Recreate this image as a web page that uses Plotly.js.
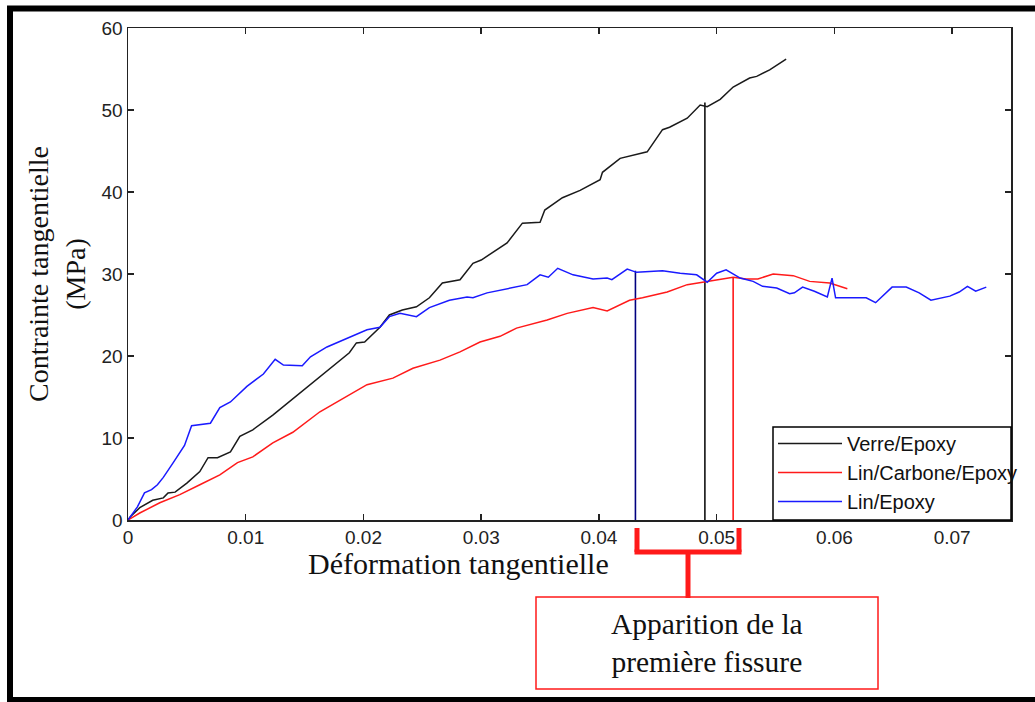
<!DOCTYPE html>
<html>
<head>
<meta charset="utf-8">
<script src="https://cdn.plot.ly/plotly-3.0.1.min.js"></script>
<style>
  html, body { margin: 0; padding: 0; background: #ffffff; }
  #chart { width: 1035px; height: 702px; }
</style>
</head>
<body>
<div id="chart"></div>
<script>
// ---- Data ----
const seriesNames = ['Verre/Epoxy', 'Lin/Carbone/Epoxy', 'Lin/Epoxy'];

const verreX = [0, 0.0002, 0.0010, 0.0021, 0.0030, 0.0034, 0.0040, 0.0050, 0.0061, 0.0068, 0.0076, 0.0087, 0.0095, 0.0106, 0.0123, 0.0140, 0.0155, 0.0163, 0.0177, 0.0188, 0.0194, 0.0201, 0.0214, 0.0222, 0.0233, 0.0245, 0.0256, 0.0267, 0.0282, 0.0293, 0.0300, 0.0316, 0.0322, 0.0335, 0.0350, 0.0354, 0.0369, 0.0384, 0.0401, 0.0403, 0.0418, 0.0441, 0.0454, 0.0460, 0.0475, 0.0486, 0.0492, 0.0503, 0.0514, 0.0528, 0.0534, 0.0545, 0.0559];
const verreY = [0, 0.4, 1.5, 2.4, 2.7, 3.3, 3.4, 4.5, 5.9, 7.6, 7.6, 8.3, 10.2, 11.0, 12.8, 14.8, 16.5, 17.4, 19.1, 20.4, 21.6, 21.7, 23.5, 25.0, 25.6, 26.0, 27.1, 28.9, 29.3, 31.3, 31.7, 33.3, 33.8, 36.2, 36.3, 37.8, 39.3, 40.2, 41.5, 42.4, 44.1, 44.9, 47.6, 47.9, 49.0, 50.6, 50.4, 51.3, 52.8, 53.9, 54.1, 54.9, 56.2];

const linCarbX = [0, 0.0010, 0.0027, 0.0044, 0.0061, 0.0078, 0.0093, 0.0106, 0.0123, 0.0140, 0.0163, 0.0180, 0.0203, 0.0225, 0.0242, 0.0265, 0.0282, 0.0299, 0.0316, 0.0330, 0.0356, 0.0373, 0.0395, 0.0407, 0.0426, 0.0437, 0.0458, 0.0475, 0.0488, 0.0503, 0.0514, 0.0525, 0.0535, 0.0548, 0.0565, 0.0579, 0.0596, 0.0611];
const linCarbY = [0, 0.85, 2.1, 3.1, 4.3, 5.5, 7.0, 7.7, 9.4, 10.7, 13.2, 14.6, 16.5, 17.3, 18.5, 19.5, 20.5, 21.7, 22.4, 23.4, 24.4, 25.2, 25.9, 25.5, 26.8, 27.1, 27.8, 28.7, 29.0, 29.4, 29.6, 29.4, 29.4, 30.0, 29.8, 29.1, 28.9, 28.2];

const linEpoX = [0, 0.0008, 0.0014, 0.0020, 0.0025, 0.0030, 0.0038, 0.0048, 0.0054, 0.0061, 0.0070, 0.0078, 0.0087, 0.0101, 0.0115, 0.0125, 0.0132, 0.0148, 0.0155, 0.0169, 0.0188, 0.0203, 0.0214, 0.0222, 0.0231, 0.0245, 0.0256, 0.0273, 0.0288, 0.0293, 0.0305, 0.0316, 0.0339, 0.0350, 0.0357, 0.0365, 0.0378, 0.0395, 0.0407, 0.0411, 0.0424, 0.0432, 0.0454, 0.0469, 0.0483, 0.0492, 0.0500, 0.0508, 0.0520, 0.0531, 0.0539, 0.0551, 0.0562, 0.0566, 0.0573, 0.0583, 0.0594, 0.0598, 0.0601, 0.0615, 0.0627, 0.0635, 0.0649, 0.0661, 0.0672, 0.0682, 0.0698, 0.0706, 0.0713, 0.0720, 0.0729];
const linEpoY = [0, 1.6, 3.3, 3.7, 4.3, 5.2, 6.9, 9.1, 11.5, 11.6, 11.8, 13.7, 14.4, 16.3, 17.8, 19.6, 18.9, 18.8, 19.9, 21.1, 22.3, 23.2, 23.5, 24.8, 25.2, 24.8, 25.9, 26.8, 27.2, 27.1, 27.7, 28.0, 28.7, 29.9, 29.6, 30.7, 29.9, 29.4, 29.5, 29.3, 30.6, 30.2, 30.4, 30.1, 29.9, 29.0, 30.1, 30.5, 29.5, 29.1, 28.5, 28.3, 27.6, 27.7, 28.4, 27.9, 27.2, 29.5, 27.1, 27.1, 27.1, 26.5, 28.4, 28.4, 27.7, 26.8, 27.3, 27.8, 28.5, 27.9, 28.4];

// first-crack markers (strain, stress) for Lin/Epoxy, Verre/Epoxy, Lin/Carbone/Epoxy
const crackX = [0.0431, 0.0490, 0.0514];
const crackY = [30.4, 50.9, 29.6];

const xTickVals = [0, 0.01, 0.02, 0.03, 0.04, 0.05, 0.06, 0.07];
const xTickText = ['0', '0.01', '0.02', '0.03', '0.04', '0.05', '0.06', '0.07'];
const yTickVals = [0, 10, 20, 30, 40, 50, 60];
const yTickText = ['0', '10', '20', '30', '40', '50', '60'];

const xTitle = 'Déformation tangentielle';
const yTitle = 'Contrainte tangentielle<br>(MPa)';
const noteText = 'Apparition de la<br>première fissure';

// ---- Styles ----
const curveColors = ['#1a1a1a', '#ff1a1a', '#1a1aff'];
const crackColors = ['#000080', '#111111', '#ff1a1a'];
const serif = 'Liberation Serif, Times New Roman, serif';
const sans = 'Liberation Sans, Arial, sans-serif';

const traces = [];
// crack vertical lines (drawn first, below the curves)
for (let i = 0; i < crackX.length; i++) {
  traces.push({
    x: [crackX[i], crackX[i]], y: [0, crackY[i]],
    mode: 'lines', type: 'scatter', showlegend: false, hoverinfo: 'skip',
    line: { color: crackColors[i], width: 1.6 }
  });
}
const dataSets = [[verreX, verreY], [linCarbX, linCarbY], [linEpoX, linEpoY]];
dataSets.forEach((d, i) => {
  traces.push({
    x: d[0], y: d[1], name: seriesNames[i],
    mode: 'lines', type: 'scatter',
    line: { color: curveColors[i], width: 1.5 }
  });
});

// pixel -> paper helpers for decorations outside the plot area
const L = 128, T = 28, W = 883, H = 492;
const px = v => (v - L) / W;
const py = v => (T + H - v) / H;

const red = '#ff1a1a';
const shapes = [
  // outer picture frame
  { type: 'rect', xref: 'paper', yref: 'paper', x0: px(10), x1: px(1045), y0: py(700), y1: py(8.5),
    line: { color: '#000', width: 6 }, fillcolor: 'rgba(0,0,0,0)' },
  // legend frame
  { type: 'rect', xref: 'paper', yref: 'paper', x0: px(773), x1: px(1011), y0: py(520), y1: py(427),
    line: { color: '#000', width: 1.5 }, fillcolor: '#ffffff', layer: 'above' },
  // bracket
  { type: 'line', xref: 'paper', yref: 'paper', x0: px(637), x1: px(637), y0: py(528), y1: py(552), line: { color: red, width: 5 } },
  { type: 'line', xref: 'paper', yref: 'paper', x0: px(634.5), x1: px(741.5), y0: py(552), y1: py(552), line: { color: red, width: 5 } },
  { type: 'line', xref: 'paper', yref: 'paper', x0: px(739), x1: px(739), y0: py(528), y1: py(552), line: { color: red, width: 5 } },
  { type: 'line', xref: 'paper', yref: 'paper', x0: px(688), x1: px(688), y0: py(552), y1: py(598), line: { color: red, width: 5 } },
  // note box
  { type: 'rect', xref: 'paper', yref: 'paper', x0: px(536), x1: px(878), y0: py(689), y1: py(597),
    line: { color: red, width: 1.5 }, fillcolor: 'rgba(0,0,0,0)' }
];

const annotations = [
  { text: xTitle, xref: 'paper', yref: 'paper', x: px(458), y: py(563), xanchor: 'center', yanchor: 'middle',
    showarrow: false, font: { family: serif, size: 30, color: '#111' } },
  { text: noteText, xref: 'paper', yref: 'paper', x: px(707), y: py(643), xanchor: 'center', yanchor: 'middle',
    showarrow: false, font: { family: serif, size: 29.5, color: '#111' } }
];

const axisCommon = {
  showline: true, linecolor: '#222', linewidth: 1.5, mirror: 'ticks',
  ticks: 'inside', ticklen: 6, tickwidth: 1.5, tickcolor: '#222',
  showgrid: false, zeroline: false,
  tickfont: { family: sans, size: 19, color: '#222' }
};

const layout = {
  width: 1035, height: 702,
  margin: { l: 128, r: 24, t: 28, b: 182, pad: 0 },
  paper_bgcolor: '#ffffff', plot_bgcolor: '#ffffff',
  xaxis: Object.assign({}, axisCommon, {
    range: [0, 0.075], tickmode: 'array', tickvals: xTickVals, ticktext: xTickText
  }),
  yaxis: Object.assign({}, axisCommon, {
    range: [0, 60], tickmode: 'array', tickvals: yTickVals, ticktext: yTickText,
    title: { text: yTitle, font: { family: serif, size: 28, color: '#111' }, standoff: 8 }
  }),
  legend: {
    x: px(773), y: py(424), xanchor: 'left', yanchor: 'top',
    bgcolor: 'rgba(0,0,0,0)', borderwidth: 0,
    font: { family: sans, size: 20, color: '#111' },
    itemwidth: 64, tracegroupgap: 0
  },
  shapes: shapes,
  annotations: annotations,
  showlegend: true
};

Plotly.newPlot('chart', traces, layout, { displayModeBar: false, staticPlot: true });
</script>
</body>
</html>
